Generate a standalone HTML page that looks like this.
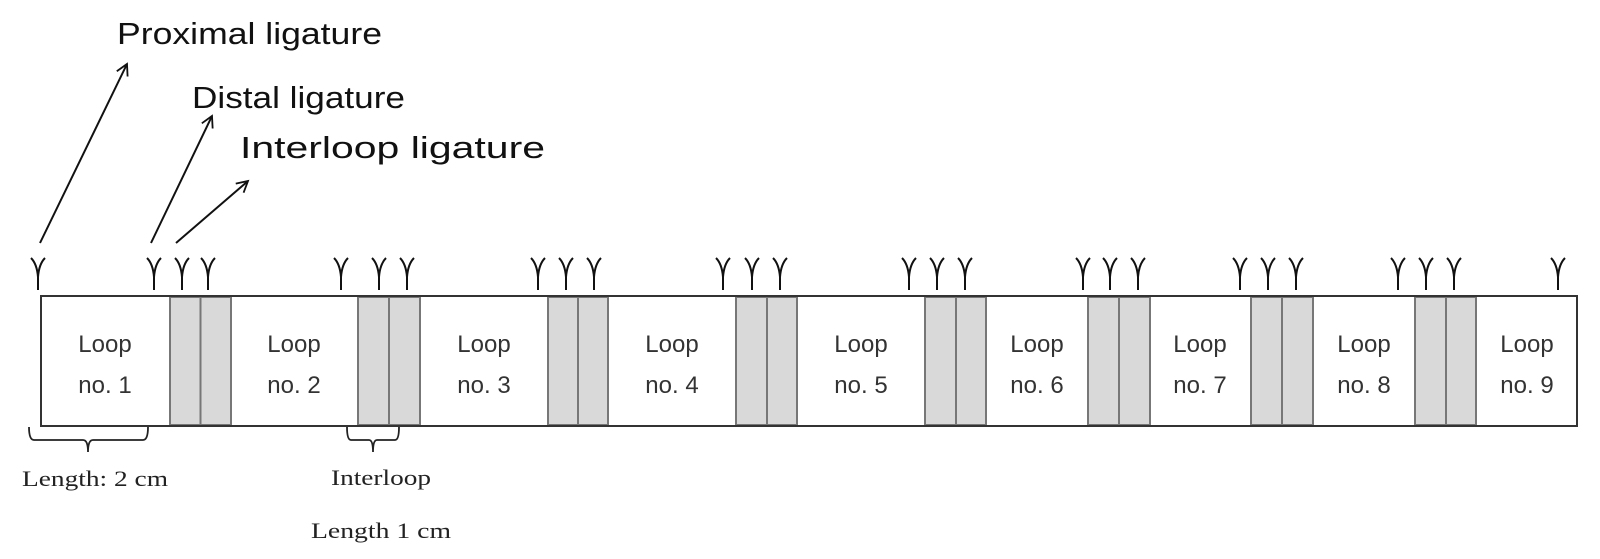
<!DOCTYPE html>
<html><head><meta charset="utf-8"><style>
html,body{margin:0;padding:0;background:#fff;width:1600px;height:559px;overflow:hidden}
</style></head><body>
<svg width="1600" height="559" viewBox="0 0 1600 559" xmlns="http://www.w3.org/2000/svg">
<defs><marker id="ah" markerWidth="14" markerHeight="14" refX="12" refY="7" orient="auto" markerUnits="userSpaceOnUse"><path d="M1,1 L12,7 L1,13" fill="none" stroke="#111" stroke-width="1.8"/></marker></defs>
<g font-family="Liberation Sans, sans-serif" font-size="31" fill="#111">
<text x="117" y="44" textLength="265" lengthAdjust="spacingAndGlyphs">Proximal ligature</text>
<text x="192" y="108" textLength="213" lengthAdjust="spacingAndGlyphs">Distal ligature</text>
<text x="240" y="158" textLength="305" lengthAdjust="spacingAndGlyphs">Interloop ligature</text>
</g>
<g stroke="#111" stroke-width="2" fill="none" marker-end="url(#ah)">
<line x1="40" y1="243" x2="127" y2="64"/>
<line x1="151" y1="243" x2="212" y2="116"/>
<line x1="176" y1="243" x2="248" y2="181"/>
</g>
<rect x="41" y="296" width="1536" height="130" fill="#fff" stroke="#333" stroke-width="2"/>
<g fill="#d9d9d9" stroke="#777" stroke-width="2">
<rect x="170" y="297" width="30.5" height="128"/><rect x="200.5" y="297" width="30.5" height="128"/>
<rect x="358" y="297" width="31" height="128"/><rect x="389" y="297" width="31" height="128"/>
<rect x="548" y="297" width="30" height="128"/><rect x="578" y="297" width="30" height="128"/>
<rect x="736" y="297" width="31" height="128"/><rect x="767" y="297" width="30" height="128"/>
<rect x="925" y="297" width="31" height="128"/><rect x="956" y="297" width="30" height="128"/>
<rect x="1088" y="297" width="31" height="128"/><rect x="1119" y="297" width="31" height="128"/>
<rect x="1251" y="297" width="31" height="128"/><rect x="1282" y="297" width="31" height="128"/>
<rect x="1415" y="297" width="31" height="128"/><rect x="1446" y="297" width="30" height="128"/>
</g>
<rect x="41" y="296" width="1536" height="130" fill="none" stroke="#333" stroke-width="2"/>
<g font-family="Liberation Sans, sans-serif" font-size="24" fill="#333" text-anchor="middle">
<text x="105" y="352">Loop</text><text x="105" y="393">no. 1</text>
<text x="294" y="352">Loop</text><text x="294" y="393">no. 2</text>
<text x="484" y="352">Loop</text><text x="484" y="393">no. 3</text>
<text x="672" y="352">Loop</text><text x="672" y="393">no. 4</text>
<text x="861" y="352">Loop</text><text x="861" y="393">no. 5</text>
<text x="1037" y="352">Loop</text><text x="1037" y="393">no. 6</text>
<text x="1200" y="352">Loop</text><text x="1200" y="393">no. 7</text>
<text x="1364" y="352">Loop</text><text x="1364" y="393">no. 8</text>
<text x="1527" y="352">Loop</text><text x="1527" y="393">no. 9</text>
</g>
<g stroke="#111" stroke-width="2" fill="none">
<path d="M31,258 Q37,264 38,277 L38,290 M45,258 Q39,264 38,277"/>
<path d="M147,258 Q153,264 154,277 L154,290 M161,258 Q155,264 154,277"/>
<path d="M175,258 Q181,264 182,277 L182,290 M189,258 Q183,264 182,277"/>
<path d="M201,258 Q207,264 208,277 L208,290 M215,258 Q209,264 208,277"/>
<path d="M334,258 Q340,264 341,277 L341,290 M348,258 Q342,264 341,277"/>
<path d="M372,258 Q378,264 379,277 L379,290 M386,258 Q380,264 379,277"/>
<path d="M400,258 Q406,264 407,277 L407,290 M414,258 Q408,264 407,277"/>
<path d="M531,258 Q537,264 538,277 L538,290 M545,258 Q539,264 538,277"/>
<path d="M559,258 Q565,264 566,277 L566,290 M573,258 Q567,264 566,277"/>
<path d="M587,258 Q593,264 594,277 L594,290 M601,258 Q595,264 594,277"/>
<path d="M716,258 Q722,264 723,277 L723,290 M730,258 Q724,264 723,277"/>
<path d="M745,258 Q751,264 752,277 L752,290 M759,258 Q753,264 752,277"/>
<path d="M773,258 Q779,264 780,277 L780,290 M787,258 Q781,264 780,277"/>
<path d="M902,258 Q908,264 909,277 L909,290 M916,258 Q910,264 909,277"/>
<path d="M930,258 Q936,264 937,277 L937,290 M944,258 Q938,264 937,277"/>
<path d="M958,258 Q964,264 965,277 L965,290 M972,258 Q966,264 965,277"/>
<path d="M1076,258 Q1082,264 1083,277 L1083,290 M1090,258 Q1084,264 1083,277"/>
<path d="M1103,258 Q1109,264 1110,277 L1110,290 M1117,258 Q1111,264 1110,277"/>
<path d="M1131,258 Q1137,264 1138,277 L1138,290 M1145,258 Q1139,264 1138,277"/>
<path d="M1233,258 Q1239,264 1240,277 L1240,290 M1247,258 Q1241,264 1240,277"/>
<path d="M1261,258 Q1267,264 1268,277 L1268,290 M1275,258 Q1269,264 1268,277"/>
<path d="M1289,258 Q1295,264 1296,277 L1296,290 M1303,258 Q1297,264 1296,277"/>
<path d="M1391,258 Q1397,264 1398,277 L1398,290 M1405,258 Q1399,264 1398,277"/>
<path d="M1419,258 Q1425,264 1426,277 L1426,290 M1433,258 Q1427,264 1426,277"/>
<path d="M1447,258 Q1453,264 1454,277 L1454,290 M1461,258 Q1455,264 1454,277"/>
<path d="M1551,258 Q1557,264 1558,277 L1558,290 M1565,258 Q1559,264 1558,277"/>
</g>
<g stroke="#222" stroke-width="1.8" fill="none">
<path d="M29,427 Q29,440 34,440 L83,440 Q88,440 88,452 Q88,440 93,440 L143,440 Q148,440 148,427"/>
<path d="M347,427 Q347,440 351,440 L369,440 Q373,440 373,452 Q373,440 377,440 L395,440 Q399,440 399,427"/>
</g>
<g font-family="Liberation Serif, serif" font-size="22" fill="#222">
<text x="22" y="486" textLength="146" lengthAdjust="spacingAndGlyphs">Length: 2 cm</text>
<text x="331" y="485" textLength="100" lengthAdjust="spacingAndGlyphs">Interloop</text>
<text x="311" y="538" textLength="140" lengthAdjust="spacingAndGlyphs">Length 1 cm</text>
</g>
</svg>
</body></html>
